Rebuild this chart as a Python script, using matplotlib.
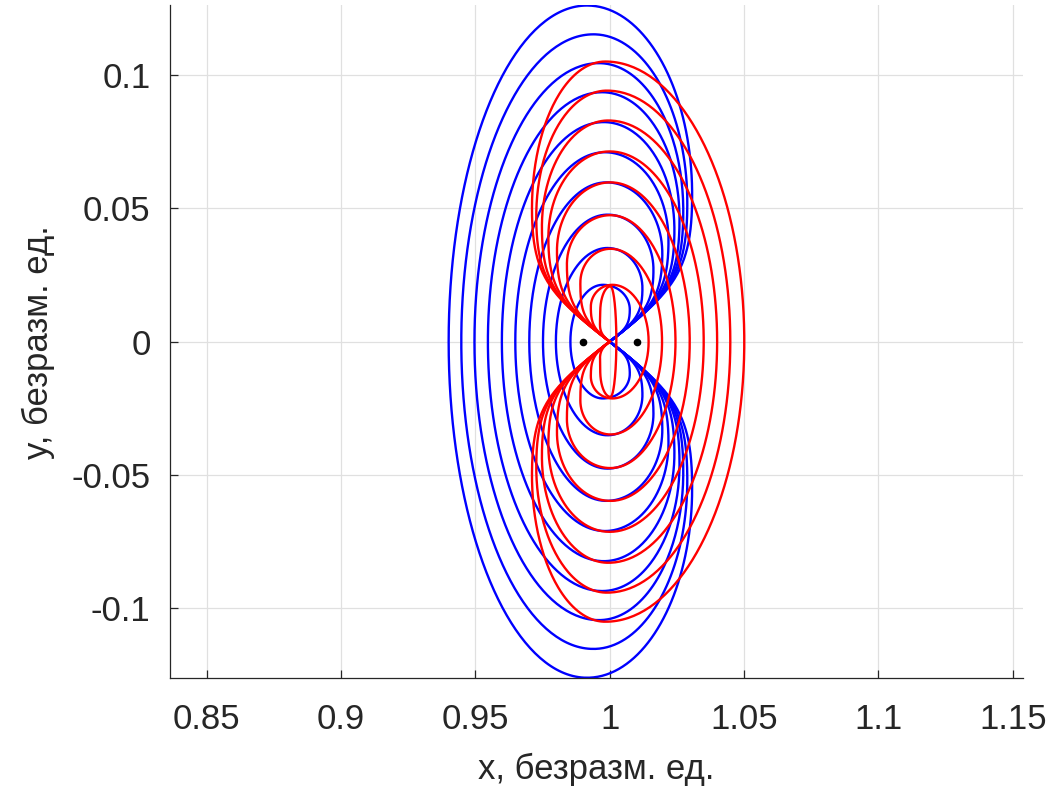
import numpy as np
import matplotlib.pyplot as plt

# blue loops: cusp at (1, 0), wide side to the left
blue_top_y = [0.1260, 0.1152, 0.1044, 0.0935, 0.0823, 0.0710, 0.0597, 0.0476, 0.0351, 0.0213]
blue_top_x = [0.9916, 0.9940, 0.9960, 0.9972, 0.9978, 0.9982, 0.9988, 0.9992, 0.9992, 0.9975]
blue_far_x = [0.9401, 0.9448, 0.9497, 0.9547, 0.9599, 0.9649, 0.9701, 0.9752, 0.9800, 0.9854]
blue_near_x = [1.0307, 1.0289, 1.0274, 1.0260, 1.0241, 1.0219, 1.0196, 1.0163, 1.0122, 1.0075]
blue_near_y = [0.055, 0.052, 0.049, 0.046, 0.042, 0.038, 0.033, 0.027, 0.020, 0.012]

# red loops: cusp at (1, 0), wide side to the right
red_top_y = [0.1050, 0.0941, 0.0829, 0.0713, 0.0597, 0.0474, 0.0348, 0.0213, 0.0207]
red_top_x = [0.9984, 0.9990, 0.9995, 1.0000, 1.0003, 1.0003, 1.0003, 1.0010, 1.0003]
red_far_x = [1.0501, 1.0449, 1.0400, 1.0350, 1.0298, 1.0245, 1.0195, 1.0145, 1.0025]
red_near_x = [0.9711, 0.9727, 0.9748, 0.9772, 0.9804, 0.9841, 0.9891, 0.9930, 0.9965]
red_near_y = [0.050, 0.047, 0.043, 0.039, 0.034, 0.029, 0.022, 0.013, 0.011]

# libration points
lib_x = [0.98999, 1.01008]
lib_y = [0.0, 0.0]

xticks = [0.85, 0.9, 0.95, 1.0, 1.05, 1.1, 1.15]
xtick_labels = ['0.85', '0.9', '0.95', '1', '1.05', '1.1', '1.15']
yticks = [-0.1, -0.05, 0.0, 0.05, 0.1]
ytick_labels = ['-0.1', '-0.05', '0', '0.05', '0.1']


def bezier(p0, p1, p2, p3, n=80):
    t = np.linspace(0, 1, n)[:, None]
    return ((1 - t) ** 3 * p0 + 3 * (1 - t) ** 2 * t * p1
            + 3 * (1 - t) * t ** 2 * p2 + t ** 3 * p3)


def loop(top_x, top_y, far_x, near_x, near_y, side):
    # side = +1: narrow side to the right of the cusp, -1: to the left
    k = 0.5523
    c = np.array([1.0, 0.0])
    nr = np.array([near_x, near_y])
    tp = np.array([top_x, top_y])
    f = np.array([far_x, 0.0])
    a = np.radians(38)
    arm = 0.5 * np.hypot(near_x - 1, near_y)
    s1 = bezier(c, c + arm * np.array([side * np.cos(a), np.sin(a)]),
                nr - np.array([0, 0.5 * near_y]), nr)
    s2 = bezier(nr, nr + np.array([0, k * (top_y - near_y)]),
                tp + np.array([k * (near_x - top_x), 0]), tp)
    s3 = bezier(tp, tp + np.array([k * (far_x - top_x), 0]),
                f + np.array([0, k * top_y]), f)
    upper = np.vstack([s1, s2, s3])
    lower = upper[::-1] * np.array([1, -1])
    full = np.vstack([upper, lower])
    return full[:, 0], full[:, 1]


plt.rcParams['font.family'] = ['Liberation Sans', 'DejaVu Sans']
fig = plt.figure(figsize=(10.61, 7.92), dpi=100)
ax = fig.add_axes([0.1602, 0.1436, 0.8037, 0.8501])

for i in range(len(blue_top_y)):
    x, y = loop(blue_top_x[i], blue_top_y[i], blue_far_x[i],
                blue_near_x[i], blue_near_y[i], +1)
    ax.plot(x, y, color='#0000ff', lw=1.7)

for i in range(len(red_top_y)):
    x, y = loop(red_top_x[i], red_top_y[i], red_far_x[i],
                red_near_x[i], red_near_y[i], -1)
    ax.plot(x, y, color='#ff0000', lw=1.7)

ax.plot(lib_x, lib_y, 'o', color='black', ms=4.5, zorder=5)

ax.set_xlim(0.8364, 1.1537)
ax.set_ylim(-0.1262, 0.1262)
ax.set_xticks(xticks)
ax.set_xticklabels(xtick_labels)
ax.set_yticks(yticks)
ax.set_yticklabels(ytick_labels)
ax.grid(True, color='#e0e0e0', lw=0.9)
ax.set_axisbelow(True)
for s in ['top', 'right']:
    ax.spines[s].set_visible(False)
for s in ['left', 'bottom']:
    ax.spines[s].set_color('#262626')
    ax.spines[s].set_linewidth(0.9)
ax.tick_params(direction='in', length=5.5, width=0.9, colors='#262626',
               labelsize=25)
ax.tick_params(axis='x', pad=18)
ax.tick_params(axis='y', pad=14)
ax.set_xlabel('x, безразм. ед.', fontsize=25, color='#262626', labelpad=12)
ax.set_ylabel('y, безразм. ед.', fontsize=25, color='#262626', labelpad=12)

fig.savefig('out.png', dpi=100)
